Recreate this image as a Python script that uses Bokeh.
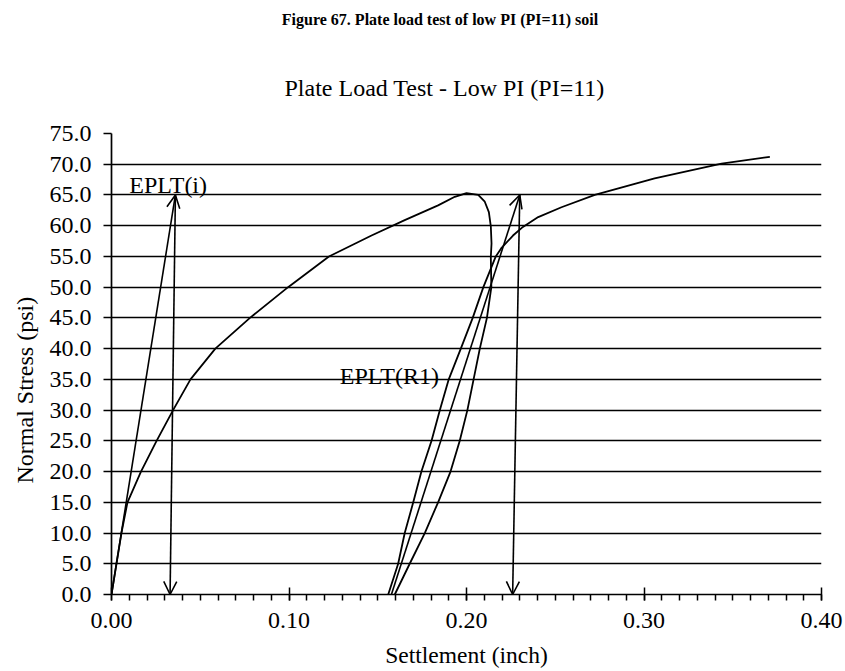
from bokeh.plotting import figure
from bokeh.layouts import column
from bokeh.models import (Range1d, SingleIntervalTicker, PrintfTickFormatter, Title,
                          Arrow, OpenHead, ColumnDataSource, Label, Div)
from bokeh.embed import file_html
from bokeh.resources import INLINE

# ---------------- data ----------------
# loading curve up to the peak and the unloading branch back to zero stress
main_settlement = [0.0, 0.0028, 0.0056, 0.009, 0.0166, 0.0254, 0.0347, 0.0445,
                   0.0585, 0.078, 0.0995, 0.1225, 0.1465, 0.1652, 0.184, 0.1934, 0.2,
                   0.2066, 0.2103, 0.2126, 0.2137, 0.2141, 0.2137, 0.2140, 0.2115,
                   0.2075, 0.204, 0.2005, 0.1962, 0.191, 0.184, 0.1765, 0.168, 0.1596]
main_stress = [0.0, 5.0, 10.0, 15.0, 20.0, 25.0, 30.0, 35.0,
               40.0, 45.0, 50.0, 55.0, 58.4, 60.9, 63.3, 64.7, 65.3,
               65.0, 63.9, 62.2, 59.9, 57.1, 54.9, 50.0, 45.0,
               40.0, 35.0, 30.0, 25.0, 20.0, 15.0, 10.0, 5.0, 0.0]

# reloading curve, continuing to the end of the test
reload_settlement = [0.1559, 0.1615, 0.1652, 0.170, 0.1746, 0.1803, 0.185, 0.190, 0.1968,
                     0.2035, 0.2095, 0.2165, 0.2195, 0.2262, 0.2318, 0.2404, 0.2535,
                     0.2723, 0.306, 0.3437, 0.3709]
reload_stress = [0.0, 5.0, 10.0, 15.0, 20.0, 25.0, 30.0, 35.0, 40.0,
                 45.0, 50.0, 55.0, 56.3, 58.4, 59.8, 61.4, 63.0,
                 65.0, 67.7, 70.1, 71.2]

# modulus construction arrows (EPLT(i) and EPLT(R1))
arrow_x_start = [0.0, 0.036, 0.1577, 0.230]
arrow_y_start = [0.0, 65.0, 0.0, 65.0]
arrow_x_end = [0.036, 0.033, 0.230, 0.226]
arrow_y_end = [65.0, 0.0, 65.0, 0.0]

annotation_texts = ["EPLT(i)", "EPLT(R1)"]
annotation_x = [0.010, 0.1286]
annotation_y = [66.6, 35.5]

fig_title = "Figure 67. Plate load test of low PI (PI=11) soil"
chart_title = "Plate Load Test - Low PI (PI=11)"
x_label = "Settlement (inch)"
y_label = "Normal Stress (psi)"

SERIF = "Liberation Serif"
FS = "24px"

caption = Div(text=("<div style=\"font-family:'Liberation Serif',serif;font-weight:bold;"
                    "font-size:16px;line-height:40px;height:40px;width:845px;"
                    "box-sizing:border-box;text-align:center;padding-left:35px;"
                    "color:black;white-space:nowrap;\">" + fig_title + "</div>"),
              width=845, height=40, margin=0)

p = figure(frame_width=710, frame_height=461,
           min_border_left=110, min_border_right=25,
           min_border_top=93, min_border_bottom=77,
           x_range=Range1d(0, 0.4), y_range=Range1d(0, 75),
           output_backend="svg", toolbar_location=None, margin=0)

p.outline_line_color = None
p.background_fill_color = "white"
p.border_fill_color = "white"

# chart title
p.title.text = chart_title
p.title.text_font = SERIF
p.title.text_font_style = "normal"
p.title.text_font_size = FS
p.title.text_color = "black"
p.title.align = "left"
p.title.offset = 173
p.title.standoff = 65

# axes
xa = p.xaxis[0]
xa.ticker = SingleIntervalTicker(interval=0.1, num_minor_ticks=10)
xa.formatter = PrintfTickFormatter(format="%.2f")
ya = p.yaxis[0]
ya.ticker = SingleIntervalTicker(interval=5, num_minor_ticks=0)
ya.formatter = PrintfTickFormatter(format="%.1f")

for ax in (xa, ya):
    ax.axis_line_color = "black"
    ax.axis_line_width = 1.7
    ax.major_tick_line_color = "black"
    ax.major_tick_line_width = 1.5
    ax.minor_tick_line_color = "black"
    ax.minor_tick_line_width = 1.5
    ax.major_label_text_font = SERIF
    ax.major_label_text_font_size = FS
    ax.major_label_text_color = "black"

xa.major_tick_in = 7
xa.major_tick_out = 6
xa.minor_tick_in = 0
xa.minor_tick_out = 6
xa.major_label_standoff = 12
xa.axis_label = x_label
xa.axis_label_standoff = 11
xa.axis_label_text_font = SERIF
xa.axis_label_text_font_size = "23.5px"
xa.axis_label_text_font_style = "normal"
xa.axis_label_text_color = "black"

ya.major_tick_in = 0
ya.major_tick_out = 8
ya.minor_tick_in = 0
ya.minor_tick_out = 0
ya.major_label_standoff = 12

ty = Title(text=y_label, text_font=SERIF, text_font_style="normal",
           text_font_size=FS, text_color="black", align="left",
           offset=111, standoff=18)
p.add_layout(ty, "left")

# grid
p.xgrid.visible = False
p.ygrid.grid_line_color = "black"
p.ygrid.grid_line_width = 1.7
p.ygrid.grid_line_alpha = 1.0

# curves
p.line(main_settlement, main_stress, line_color="black", line_width=1.8)
p.line(reload_settlement, reload_stress, line_color="black", line_width=1.8)

# arrows
asrc = ColumnDataSource(dict(x0=arrow_x_start, y0=arrow_y_start,
                             x1=arrow_x_end, y1=arrow_y_end))
p.add_layout(Arrow(x_start="x0", y_start="y0", x_end="x1", y_end="y1", source=asrc,
                   line_color="black", line_width=1.6,
                   end=OpenHead(size=13, line_color="black", line_width=1.6)))

for t, x, y in zip(annotation_texts, annotation_x, annotation_y):
    p.add_layout(Label(x=x, y=y, text=t, text_font=SERIF, text_font_size=FS,
                       text_color="black", text_baseline="alphabetic", text_align="left"))

layout = column(caption, p, spacing=0, margin=0)
open("out.html", "w").write(file_html(layout, INLINE))
